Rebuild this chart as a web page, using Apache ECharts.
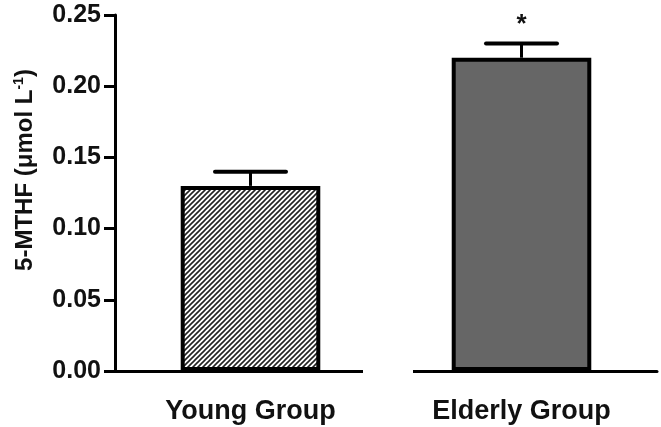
<!DOCTYPE html>
<html>
<head>
<meta charset="utf-8">
<script src="https://cdn.jsdelivr.net/npm/echarts@6/dist/echarts.min.js"></script>
<style>
html,body{margin:0;padding:0;background:#fff;}
#c{width:661px;height:427px;}
</style>
</head>
<body>
<div id="c"></div>
<script>
const categories = ['Young Group', 'Elderly Group'];
const means = [0.13, 0.22];
const errors = [0.01, 0.01];
const marks = ['', '*'];
const yTicks = [0, 0.05, 0.10, 0.15, 0.20, 0.25];

const FONT = '"Liberation Sans", Arial, sans-serif';

function hatch() {
  const s = 5;
  const cv = document.createElement('canvas');
  cv.width = s; cv.height = s;
  const g = cv.getContext('2d');
  g.fillStyle = '#fff';
  g.fillRect(0, 0, s, s);
  g.strokeStyle = '#222';
  g.lineWidth = 1.6;
  g.beginPath();
  g.moveTo(-1, s + 1); g.lineTo(s + 1, -1);
  g.moveTo(-1, 1); g.lineTo(1, -1);
  g.moveTo(s - 1, s + 1); g.lineTo(s + 1, s - 1);
  g.stroke();
  return cv;
}

const chart = echarts.init(document.getElementById('c'), null, {renderer: 'canvas'});

const barColors = [{image: hatch(), repeat: 'repeat'}, '#666666'];

chart.setOption({
  animation: false,
  grid: {left: 115, right: 4, top: 15, bottom: 56},
  xAxis: {
    type: 'category',
    data: categories,
    axisLine: {lineStyle: {color: '#000', width: 3}},
    axisTick: {alignWithLabel: true, length: 16, lineStyle: {color: '#000', width: 2}},
    axisLabel: {color: '#111', fontFamily: FONT, fontWeight: 'bold', fontSize: 27, margin: 27},
    splitLine: {show: false}
  },
  yAxis: {
    type: 'value',
    min: 0, max: 0.25, interval: 0.05,
    name: '{a|5-MTHF (μmol L}{s|-1}{a|)}',
    nameLocation: 'middle',
    nameGap: 77,
    nameTextStyle: {
      padding: [0, 0, 0, 46],
      rich: {
        a: {fontFamily: FONT, fontWeight: 'bold', fontSize: 24, color: '#111', lineHeight: 26},
        s: {fontFamily: FONT, fontWeight: 'bold', fontSize: 14, color: '#111', verticalAlign: 'top', lineHeight: 26, padding: [0, 0, 10, 0]}
      }
    },
    axisLine: {show: true, lineStyle: {color: '#000', width: 3}},
    axisTick: {show: true, length: 11, lineStyle: {color: '#000', width: 3}},
    axisLabel: {
      color: '#111', fontFamily: FONT, fontWeight: 'bold', fontSize: 25, margin: 14,
      formatter: v => yTicks.find(t => Math.abs(t - v) < 1e-9).toFixed(2)
    },
    splitLine: {show: false}
  },
  series: [
    {
      type: 'bar',
      barWidth: '51.5%',
      data: means.map((v, i) => ({
        value: v,
        itemStyle: {color: barColors[i], borderColor: '#000', borderWidth: 4}
      })),
      z: 2
    },
    {
      type: 'custom',
      data: means.map((v, i) => [i, v, errors[i]]),
      z: 3,
      renderItem: function (params, api) {
        const i = api.value(0), m = api.value(1), e = api.value(2);
        const base = api.coord([i, m]);
        const top = api.coord([i, m + e]);
        const hw = api.size([1, 0])[0] * 0.131;
        return {
          type: 'group',
          children: [
            {type: 'line', shape: {x1: base[0], y1: base[1], x2: top[0], y2: top[1]}, style: {stroke: '#000', lineWidth: 3}},
            {type: 'line', shape: {x1: top[0] - hw, y1: top[1], x2: top[0] + hw, y2: top[1]}, style: {stroke: '#000', lineWidth: 4, lineCap: 'round'}},
            {type: 'text', style: {text: marks[params.dataIndex], x: top[0], y: top[1] - 19, align: 'center', verticalAlign: 'middle', font: 'bold 26px ' + FONT, fill: '#111'}}
          ]
        };
      }
    }
  ]
});

// break in the x axis between the two groups
const p0 = chart.convertToPixel({xAxisIndex: 0}, 0);
const p1 = chart.convertToPixel({xAxisIndex: 0}, 1);
const mid = (p0 + p1) / 2;
const yAxisPx = chart.convertToPixel({yAxisIndex: 0}, 0);
chart.setOption({
  graphic: [{
    type: 'rect',
    shape: {x: mid - 23, y: yAxisPx - 3, width: 50, height: 6},
    style: {fill: '#fff'},
    z: 100
  }]
});
</script>
</body>
</html>
